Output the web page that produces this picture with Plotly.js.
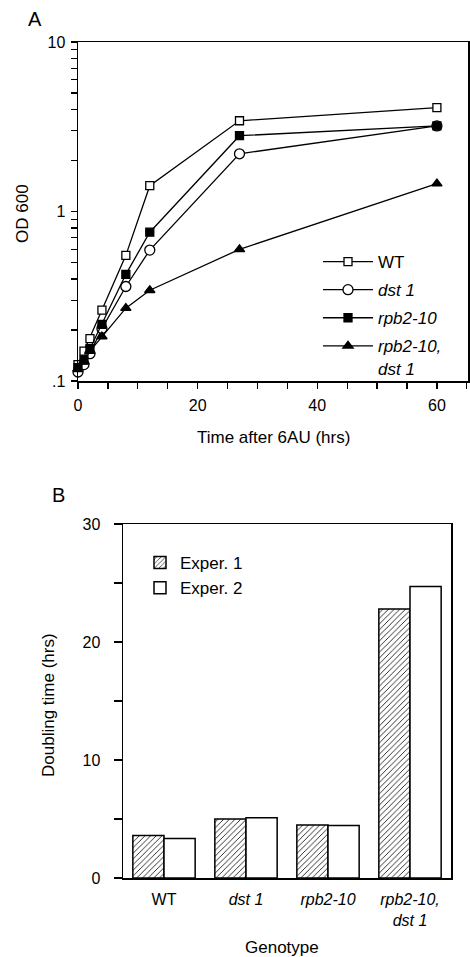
<!DOCTYPE html>
<html><head><meta charset="utf-8">
<script src="https://cdn.plot.ly/plotly-3.0.1.min.js"></script>
<style>html,body{margin:0;padding:0;background:#fff}</style>
</head><body><div id="chart" style="width:470px;height:957px"></div>
<script>
// ---- Panel A data: OD600 vs time after 6AU ----
const timeHrs = [0, 1, 2, 4, 8, 12, 27, 60];
const odWT = [0.125, 0.15, 0.178, 0.262, 0.551, 1.42, 3.43, 4.1];
const odDst1 = [0.113, 0.125, 0.145, 0.204, 0.361, 0.592, 2.19, 3.2];
const odRpb = [0.12, 0.133, 0.155, 0.216, 0.426, 0.755, 2.8, 3.2];
const odRpbDst = [0.118, 0.13, 0.15, 0.183, 0.269, 0.343, 0.598, 1.46];
const seriesNames = ['WT', '<i>dst 1</i>', '<i>rpb2-10</i>', '<i>rpb2-10,</i><br><i>dst 1</i>'];
const yTickValsA = [0.1,0.2,0.3,0.4,0.5,0.6,0.7,0.8,0.9,1,2,3,4,5,6,7,8,9,10];
const yTickTextA = ['.1','','','','','','','','','1','','','','','','','','','10'];
const xTickValsA = [0,5,10,15,20,25,30,35,40,45,50,55,60,65];
const xTickTextA = ['0','','','','20','','','','40','','','','60',''];

// ---- Panel B data: doubling time by genotype ----
const genotypes = ['WT', '<i>dst 1</i>', '<i>rpb2-10</i>', '<i>rpb2-10,</i><br><i>dst 1</i>'];
const exper1 = [3.6, 5.0, 4.5, 22.8];
const exper2 = [3.35, 5.1, 4.45, 24.7];
const expNames = ['Exper. 1', 'Exper. 2'];
const yTickValsB = [0,5,10,15,20,25,30];
const yTickTextB = ['0','','10','','20','','30'];

const W = 470, H = 957;
const px = v => v / W;
const py = v => 1 - v / H;
const FONT = 'Liberation Sans, Arial, Helvetica, sans-serif';

const lineStyle = {color: '#000', width: 1.3};
const mk = (symbol, fill, size) => ({symbol, size, color: fill, line: {color: '#000', width: 1.3}});

const traces = [
  {x: timeHrs, y: odWT, name: seriesNames[0], type: 'scatter', mode: 'lines+markers', line: lineStyle,
   marker: mk('square', '#fff', 8), cliponaxis: false, legend: 'legend', legendgroup: 'a'},
  {x: timeHrs, y: odDst1, name: seriesNames[1], type: 'scatter', mode: 'lines+markers', line: lineStyle,
   marker: mk('circle', '#fff', 10), cliponaxis: false, legend: 'legend', legendgroup: 'b'},
  {x: timeHrs, y: odRpb, name: seriesNames[2], type: 'scatter', mode: 'lines+markers', line: lineStyle,
   marker: mk('square', '#000', 8), cliponaxis: false, legend: 'legend', legendgroup: 'c'},
  {x: timeHrs, y: odRpbDst, name: seriesNames[3], type: 'scatter', mode: 'lines+markers', line: lineStyle,
   marker: mk('triangle-up', '#000', 9), cliponaxis: false, legend: 'legend', legendgroup: 'd'},
  {x: genotypes, y: exper1, name: expNames[0], type: 'bar', xaxis: 'x2', yaxis: 'y2', legend: 'legend2',
   marker: {color: '#fff', line: {color: '#000', width: 1.5},
            pattern: {shape: '/', fgcolor: '#000', bgcolor: '#fff', size: 4, solidity: 0.2}}},
  {x: genotypes, y: exper2, name: expNames[1], type: 'bar', xaxis: 'x2', yaxis: 'y2', legend: 'legend2',
   marker: {color: '#fff', line: {color: '#000', width: 1.5}}}
];

const axBase = {showgrid: false, zeroline: false, showline: true, linecolor: '#000', linewidth: 1.5,
  mirror: true, ticks: 'outside', ticklen: 6, tickwidth: 1.2, tickcolor: '#000',
  tickfont: {family: FONT, size: 16, color: '#000'}, automargin: false, fixedrange: true};

const ann = (text, x, y, size, extra) => Object.assign({text, x: px(x), y: py(y), xref: 'paper', yref: 'paper',
  showarrow: false, xanchor: 'center', yanchor: 'middle', font: {family: FONT, size, color: '#000'}}, extra || {});

const layout = {
  width: W, height: H,
  margin: {l: 0, r: 0, t: 0, b: 0},
  paper_bgcolor: '#fff', plot_bgcolor: '#fff',
  font: {family: FONT, color: '#000'},
  barmode: 'group', bargap: 0.24, bargroupgap: 0,
  xaxis: Object.assign({}, axBase, {domain: [px(78), px(468)], range: [0, 65.2],
    tickmode: 'array', tickvals: xTickValsA, ticktext: xTickTextA, anchor: 'y', ticklabelstandoff: 3}),
  yaxis: Object.assign({}, axBase, {domain: [py(381), py(42)], type: 'log', range: [-1, 1],
    tickmode: 'array', tickvals: yTickValsA, ticktext: yTickTextA, anchor: 'x', ticklabelstandoff: 2}),
  xaxis2: Object.assign({}, axBase, {domain: [px(123), px(451)], ticks: '', anchor: 'y2', type: 'category',
    ticklabelstandoff: 6}),
  yaxis2: Object.assign({}, axBase, {domain: [py(878), py(524)], range: [0, 30], ticklen: 8,
    tickmode: 'array', tickvals: yTickValsB, ticktext: yTickTextB, anchor: 'x2', ticklabelstandoff: 10}),
  legend: {x: px(318), xanchor: 'left', y: py(244), yanchor: 'top', bgcolor: 'rgba(0,0,0,0)', valign: 'top',
    font: {family: FONT, size: 17, color: '#000'}, tracegroupgap: 3, itemwidth: 50},
  legend2: {x: px(140), xanchor: 'left', y: py(545), yanchor: 'top', bgcolor: 'rgba(0,0,0,0)',
    font: {family: FONT, size: 17, color: '#000'}},
  annotations: [
    ann('A', 35, 19, 20),
    ann('B', 59, 495, 20),
    ann('OD 600', 22, 214, 17, {textangle: -90}),
    ann('Time after 6AU (hrs)', 273, 437, 17),
    ann('Doubling time (hrs)', 48, 705, 17, {textangle: -90}),
    ann('Genotype', 282, 947, 17)
  ]
};

Plotly.newPlot('chart', traces, layout, {displayModeBar: false, staticPlot: true});
</script></body></html>
